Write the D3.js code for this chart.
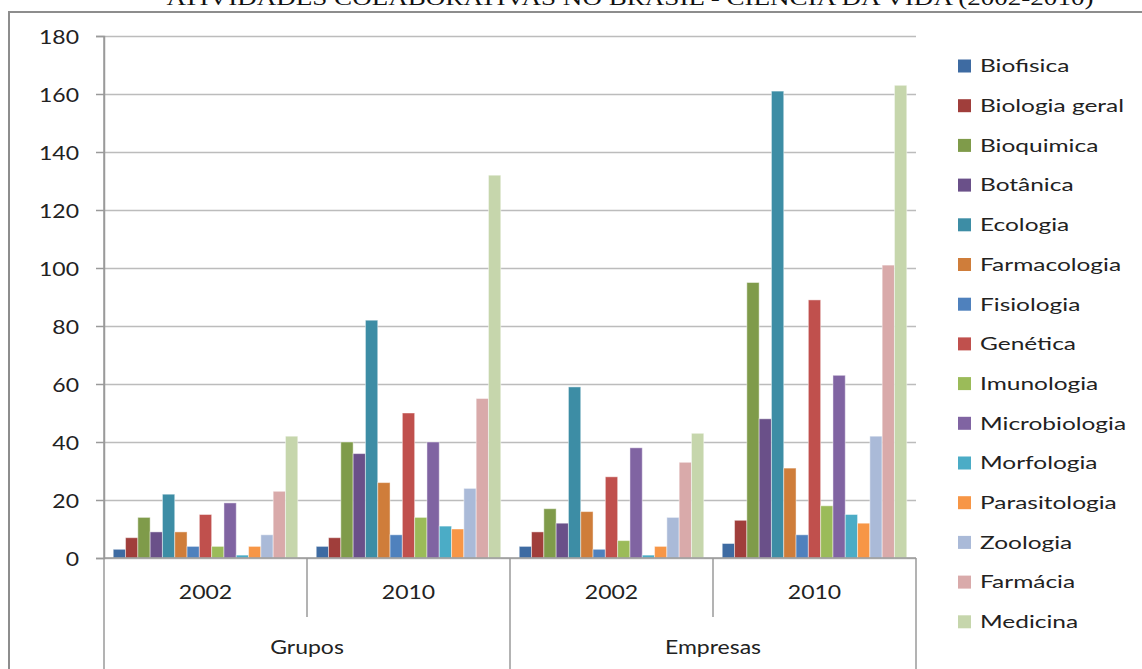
<!DOCTYPE html>
<html>
<head>
<meta charset="utf-8">
<script src="https://cdn.jsdelivr.net/npm/d3@7"></script>
<style>
  html, body { margin: 0; padding: 0; background: #ffffff; }
  svg { display: block; }
</style>
</head>
<body>
<svg id="chart" width="1142" height="669"></svg>
<script>
// Research areas (one bar each per column)
const series = [
  "Biofisica", "Biologia geral", "Bioquimica", "Botânica", "Ecologia",
  "Farmacologia", "Fisiologia", "Genética", "Imunologia", "Microbiologia",
  "Morfologia", "Parasitologia", "Zoologia", "Farmácia", "Medicina"
];
const colors = [
  "#3E6BA2", "#A03E3B", "#7F9B4A", "#6A5089", "#3D8DA5",
  "#CF7D3A", "#4F81BD", "#C0504D", "#9BBB59", "#8064A2",
  "#4BACC6", "#F79646", "#AABAD8", "#D9AAAA", "#C6D6AC"
];

// Column headers: year within each group
const years = ["2002", "2010", "2002", "2010"];
const groups = ["Grupos", "Empresas"];

// Values per column, in series order
const grupos2002   = [3, 7, 14, 9, 22, 9, 4, 15, 4, 19, 1, 4, 8, 23, 42];
const grupos2010   = [4, 7, 40, 36, 82, 26, 8, 50, 14, 40, 11, 10, 24, 55, 132];
const empresas2002 = [4, 9, 17, 12, 59, 16, 3, 28, 6, 38, 1, 4, 14, 33, 43];
const empresas2010 = [5, 13, 95, 48, 161, 31, 8, 89, 18, 63, 15, 12, 42, 101, 163];

const yTicks = [0, 20, 40, 60, 80, 100, 120, 140, 160, 180];

const columns = [grupos2002, grupos2010, empresas2002, empresas2010];

const svg = d3.select("#chart");
const W = 1142, H = 669;
const plot = { left: 104, right: 916, top: 36, bottom: 558 };

const labelFont = "Lato, 'Open Sans', sans-serif";
const textColor = "#222222";

// Horizontally stretched text, anchored at (x, y)
function stretchedText(parent, x, y, str, opts) {
  return parent.append("text")
    .attr("transform", `translate(${x},${y}) scale(${opts.sx},1)`)
    .attr("text-anchor", opts.anchor || "middle")
    .attr("dy", opts.dy || "0.35em")
    .attr("font-family", opts.family || labelFont)
    .attr("font-size", opts.size)
    .attr("fill", opts.fill || textColor)
    .text(str);
}

// Outer frame (left and top edges)
svg.append("path")
  .attr("d", `M9,${H} L9,12 L${W},12`)
  .attr("fill", "none")
  .attr("stroke", "#8d8d8d")
  .attr("stroke-width", 2);

// Title (runs off the top edge of the frame)
stretchedText(svg, 630, 5, "ATIVIDADES COLABORATIVAS NO BRASIL - CIÊNCIA DA VIDA (2002-2010)", {
  sx: 1.23, size: 22, dy: "0", family: "'Liberation Serif', 'Times New Roman', serif", fill: "#111"
});

// Scales
const x0 = d3.scaleBand()
  .domain(d3.range(columns.length))
  .range([plot.left, plot.right])
  .paddingInner(0).paddingOuter(0);

const x1 = d3.scaleBand()
  .domain(series)
  .range([0, x0.bandwidth()])
  .paddingInner(0).paddingOuter(0.75);

const y = d3.scaleLinear()
  .domain([0, 180])
  .range([plot.bottom, plot.top]);

const color = d3.scaleOrdinal().domain(series).range(colors);

// Horizontal gridlines
const grid = svg.append("g")
  .attr("transform", `translate(${plot.left},0)`)
  .call(d3.axisLeft(y).tickValues(yTicks).tickSize(-(plot.right - plot.left)).tickFormat(""));
grid.select(".domain").remove();
grid.selectAll(".tick line")
  .attr("stroke", "#bcbcbc")
  .attr("stroke-width", 1.6);

// Y axis with outward ticks
const yAxis = svg.append("g")
  .attr("transform", `translate(${plot.left},0)`)
  .call(d3.axisLeft(y).tickValues(yTicks).tickSize(8).tickPadding(0));
yAxis.select(".domain")
  .attr("stroke", "#9a9a9a")
  .attr("stroke-width", 1.5);
yAxis.selectAll(".tick line")
  .attr("stroke", "#9a9a9a")
  .attr("stroke-width", 1.5);
yAxis.selectAll(".tick text").remove();
yAxis.selectAll(".tick").each(function (d) {
  stretchedText(d3.select(this), -25, 0, String(d), { sx: 1.15, size: 20, anchor: "end" });
});

// Bars
const cols = svg.append("g").selectAll("g")
  .data(columns)
  .join("g")
  .attr("transform", (d, i) => `translate(${x0(i)},0)`);

cols.selectAll("rect")
  .data(vals => vals.map((v, k) => ({ name: series[k], value: v })))
  .join("rect")
  .attr("x", d => x1(d.name))
  .attr("width", x1.bandwidth())
  .attr("y", d => y(d.value))
  .attr("height", d => y(0) - y(d.value))
  .attr("fill", d => color(d.name))
  .attr("stroke", "rgba(255,255,255,0.45)")
  .attr("stroke-width", 1);

// Category axis: baseline, year dividers, group dividers
const catAxis = svg.append("g").attr("stroke", "#9a9a9a").attr("stroke-width", 1.5);
catAxis.append("line")
  .attr("x1", plot.left).attr("x2", plot.right)
  .attr("y1", plot.bottom).attr("y2", plot.bottom);

const yearEdges = d3.range(columns.length + 1).map(i => i < columns.length ? x0(i) : plot.right);
yearEdges.forEach((xe, i) => {
  const major = i % 2 === 0;
  catAxis.append("line")
    .attr("x1", xe).attr("x2", xe)
    .attr("y1", i === 0 ? plot.top : plot.bottom)
    .attr("y2", major ? H : 617);
});

// Year labels
years.forEach((yr, i) => {
  stretchedText(svg, x0(i) + x0.bandwidth() / 2, 592, yr, { sx: 1.15, size: 20 });
});

// Group labels
groups.forEach((g, i) => {
  const cx = x0(i * 2) + x0.bandwidth();
  stretchedText(svg, cx, 647, g, { sx: 1.15, size: 20 });
});

// Legend
const legend = svg.append("g");
const legendTop = 66, legendStep = 39.7;
series.forEach((name, i) => {
  const cy = legendTop + i * legendStep;
  legend.append("rect")
    .attr("x", 958).attr("y", cy - 6.5)
    .attr("width", 13).attr("height", 13)
    .attr("fill", color(name));
  stretchedText(legend, 980, cy, name, { sx: 1.36, size: 18, anchor: "start" });
});
</script>
</body>
</html>
